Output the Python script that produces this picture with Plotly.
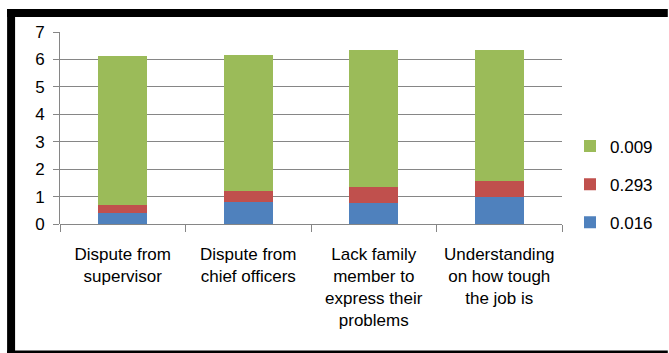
import plotly.graph_objects as go

categories = [
    "Dispute from<br>supervisor",
    "Dispute from<br>chief officers",
    "Lack family<br>member to<br>express their<br>problems",
    "Understanding<br>on how tough<br>the job is",
]
series_names = ["0.016", "0.293", "0.009"]
blue_vals = [0.39, 0.81, 0.76, 0.98]
red_vals = [0.30, 0.39, 0.58, 0.58]
green_vals = [5.44, 4.97, 5.01, 4.79]
colors = ["#4F81BD", "#C0504D", "#9BBB59"]
legend_ranks = [3, 2, 1]
y_ticks = [0, 1, 2, 3, 4, 5, 6, 7]

W, H = 669, 353
L, R, T, B = 60, 106, 32, 129
PW, PH = W - L - R, H - T - B

FONT = "Liberation Sans, Arial, sans-serif"

fig = go.Figure()
for name, vals, col, rk in zip(series_names, [blue_vals, red_vals, green_vals], colors, legend_ranks):
    fig.add_trace(go.Bar(
        x=categories, y=vals, name=name, legendgroup=name, legendrank=rk,
        marker=dict(color=col, line=dict(width=0)),
    ))

def px_x(px):
    return (px - L) / PW

def px_y(py):
    return (H - B - py) / PH

shapes = [
    dict(type="rect", xref="paper", yref="paper", x0=px_x(7), x1=px_x(15),
         y0=px_y(353), y1=px_y(9), fillcolor="black", line=dict(width=0), layer="above"),
    dict(type="rect", xref="paper", yref="paper", x0=px_x(7), x1=px_x(669),
         y0=px_y(17), y1=px_y(9), fillcolor="black", line=dict(width=0), layer="above"),
    dict(type="rect", xref="paper", yref="paper", x0=px_x(7), x1=px_x(669),
         y0=px_y(353), y1=px_y(350.5), fillcolor="black", line=dict(width=0), layer="above"),
]

fig.update_layout(
    width=W, height=H,
    margin=dict(l=L, r=R, t=T, b=B, pad=0),
    paper_bgcolor="white", plot_bgcolor="white",
    barmode="stack", bargap=0.61,
    font=dict(family=FONT, size=17, color="black"),
    showlegend=True,
    legend=dict(
        x=px_x(570), xanchor="left", y=px_y(184.5), yanchor="middle",
        traceorder="grouped", tracegroupgap=13,
        font=dict(family=FONT, size=17, color="black"),
        bgcolor="rgba(0,0,0,0)", itemwidth=30,
    ),
    shapes=shapes,
)
fig.update_xaxes(
    showline=False, showgrid=False, ticks="outside", tickson="boundaries",
    ticklen=7, tickcolor="#868686", tickwidth=1,
    tickfont=dict(family=FONT, size=17, color="black"), tickangle=0,
    ticklabelstandoff=18,
)
fig.update_yaxes(
    range=[0, 7], tickvals=y_ticks, showgrid=True, gridcolor="#868686", gridwidth=1,
    showline=True, linecolor="#868686", linewidth=1,
    ticks="outside", ticklen=6, tickcolor="#868686",
    tickfont=dict(family=FONT, size=17, color="black"),
    zeroline=True, zerolinecolor="#868686", zerolinewidth=1,
    ticklabelstandoff=5,
)

fig.write_html("out.html")
